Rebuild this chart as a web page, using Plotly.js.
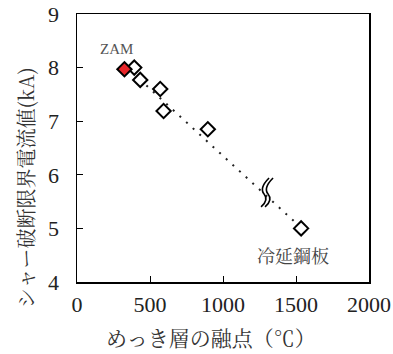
<!DOCTYPE html>
<html>
<head>
<meta charset="utf-8">
<script src="https://cdn.plot.ly/plotly-3.0.1.min.js"></script>
<style>
  html, body { margin: 0; padding: 0; background: #fff; }
  #chart { width: 393px; height: 354px; }
</style>
</head>
<body>
<div id="chart"></div>
<script>
// Melting point of the coating layer (°C) vs. shear-fracture limit current (kA)
const zamMeltX = [325];
const zamCurrentY = [7.97];
const coatMeltX = [392, 433, 570, 593, 896, 1535];
const coatCurrentY = [8.0, 7.77, 7.6, 7.19, 6.85, 5.0];
// Trend line end points
const trendX = [430, 1540];
const trendY = [7.78, 5.0];
// Axis ticks
const xTicks = [0, 500, 1000, 1500, 2000];
const yTicks = [4, 5, 6, 7, 8, 9];
// Labels
const zamLabel = 'ZAM';
const coldRolledLabel = '冷延鋼板';
const xTitle = 'めっき層の融点（℃）';
const yTitle = 'シャー破断限界電流値(kA)';
// Where the axis-break mark sits on the trend line
const breakAt = { x: 1288, y: 5.68 };

const SERIF = "Liberation Serif";
const JP = "Noto Serif CJK JP";

const traces = [
  {
    x: trendX, y: trendY, mode: 'lines', type: 'scatter',
    line: { color: '#222', width: 2, dash: '2px,7px' },
    hoverinfo: 'skip'
  },
  {
    x: coatMeltX, y: coatCurrentY, mode: 'markers', type: 'scatter',
    marker: { symbol: 'diamond', size: 11, color: '#fff', line: { color: '#000', width: 2 } }
  },
  {
    x: zamMeltX, y: zamCurrentY, mode: 'markers', type: 'scatter',
    marker: { symbol: 'diamond', size: 11, color: '#e8262a', line: { color: '#000', width: 2 } }
  }
];

// Two wavy strokes (pixel offsets, y upward) marking the break
const wave = (dx) =>
  `M ${4 + dx} 14 Q ${-6 + dx} 4 ${-1 + dx} -2 Q ${4 + dx} -8 ${-4 + dx} -15`;

const layout = {
  width: 393, height: 354,
  margin: { l: 77, r: 24, t: 14, b: 72 },
  paper_bgcolor: '#fff', plot_bgcolor: '#fff',
  showlegend: false,
  font: { family: SERIF, color: '#222' },
  xaxis: {
    range: [0, 2000], tickvals: xTicks, ticktext: xTicks.map(String),
    ticks: 'inside', ticklen: 6, tickwidth: 1, tickcolor: '#000',
    showline: true, linecolor: '#000', linewidth: 1.5, mirror: true,
    showgrid: false, zeroline: false,
    tickfont: { family: SERIF, size: 22, color: '#222' },
    ticklabelstandoff: 2
  },
  yaxis: {
    range: [4, 9], tickvals: yTicks, ticktext: yTicks.map(String),
    ticks: 'inside', ticklen: 6, tickwidth: 1, tickcolor: '#000',
    showline: true, linecolor: '#000', linewidth: 1.5, mirror: true,
    showgrid: false, zeroline: false,
    tickfont: { family: SERIF, size: 22, color: '#222' },
    ticklabelstandoff: 12
  },
  annotations: [
    {
      text: zamLabel, x: zamMeltX[0], y: zamCurrentY[0], xref: 'x', yref: 'y',
      ax: -8, ay: -20, showarrow: true, arrowcolor: 'rgba(0,0,0,0)',
      font: { family: SERIF, size: 15, color: '#555' }
    },
    {
      text: coldRolledLabel, x: coatMeltX[5], y: coatCurrentY[5], xref: 'x', yref: 'y',
      ax: -8, ay: 27, showarrow: true, arrowcolor: 'rgba(0,0,0,0)',
      font: { family: JP, size: 18, color: '#444' }
    },
    {
      text: xTitle, xref: 'paper', yref: 'paper', x: 0.46, y: -0.205,
      xanchor: 'center', yanchor: 'middle', showarrow: false,
      font: { family: JP, size: 21, color: '#333' }
    },
    {
      text: yTitle, xref: 'paper', yref: 'paper', x: -0.178, y: 0.35,
      xanchor: 'center', yanchor: 'middle', showarrow: false, textangle: -90,
      font: { family: JP, size: 20, color: '#333' }
    }
  ],
  shapes: [0, 4].map(dx => ({
    type: 'path', xref: 'x', yref: 'y',
    xsizemode: 'pixel', ysizemode: 'pixel',
    xanchor: breakAt.x, yanchor: breakAt.y,
    path: wave(dx),
    line: { color: '#000', width: 1.6 }
  }))
};

Plotly.newPlot('chart', traces, layout, { displayModeBar: false, staticPlot: true });
</script>
</body>
</html>
